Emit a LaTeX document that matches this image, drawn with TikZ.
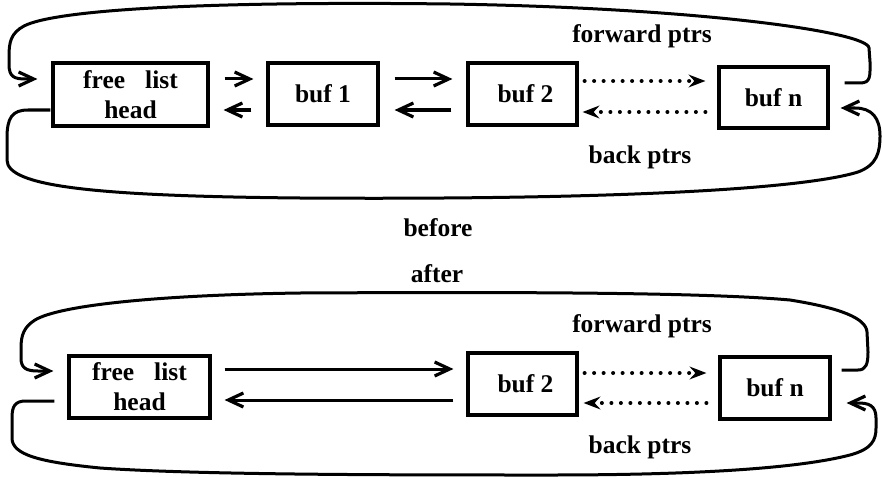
\documentclass[tikz,border=0pt]{standalone}
\usepackage{fontspec}
\setmainfont{Liberation Serif}
\usetikzlibrary{arrows.meta}
\begin{document}
\begin{tikzpicture}[x=1pt,y=-1pt,
  every node/.style={font=\fontsize{25.5}{30}\selectfont\bfseries},
  box/.style={draw,line width=3.2pt,align=center,inner sep=0pt},
  con/.style={line width=3pt},
  fw/.style={con,-{Straight Barb[length=15pt,width=14pt,line width=3.2pt]}},
  dot/.style={line width=4pt,line cap=round,dash pattern=on 0pt off 9.5pt,
    -{Stealth[length=17pt,width=13pt,inset=6pt,line width=1.5pt]}},
  lbl/.style={anchor=base}]
\useasboundingbox (0,0) rectangle (882,476);
% ---------- before ----------
\node[box,minimum width=155pt,minimum height=63pt] (fl1) at (130.5,94.5)
  {free\hspace{20pt}list\\head};
\node[box,minimum width=110pt,minimum height=62pt] (b1) at (323,94) {buf 1};
\node[box,minimum width=109pt,minimum height=62pt] (b21) at (522.5,94) {\hspace{6pt}buf 2};
\node[box,minimum width=109pt,minimum height=61pt] (bn1) at (773.5,97.5) {buf n};
\draw[fw,shorten <=15pt,shorten >=13pt] (fl1.east |- 0,79) -- (b1.west |- 0,79);
\draw[fw,shorten <=15pt,shorten >=14pt] (b1.west |- 0,110) -- (fl1.east |- 0,110);
\draw[fw,shorten <=15pt,shorten >=14pt] (b1.east |- 0,79) -- (b21.west |- 0,79);
\draw[fw,shorten <=15pt,shorten >=15pt] (b21.west |- 0,110) -- (b1.east |- 0,110);
\draw[dot,shorten <=6pt,shorten >=12pt] (b21.east |- 0,81) -- (bn1.west |- 0,81);
\draw[dot,shorten <=12pt,shorten >=4pt] (bn1.west |- 0,112) -- (b21.east |- 0,112);
\draw[fw,shorten <=15pt,shorten >=14pt] (bn1.east |- 0,83) -- (860,83)
  .. controls (871,83) and (870,76) .. (870,62) -- (869,48)
  .. controls (868,32) and (700,8) .. (450,4)
  .. controls (200,1) and (55,10) .. (24,26)
  .. controls (11,33) and (9,42) .. (9,56) -- (9,64)
  .. controls (9,77) and (14,79) .. (26,79) -- (fl1.west |- 0,79);
\draw[fw,shorten <=1pt,shorten >=11pt] (fl1.west |- 0,110) -- (28,110)
  .. controls (12,110) and (7,118) .. (7,138) -- (7,160)
  .. controls (7,186) and (90,196) .. (300,198)
  .. controls (600,200) and (800,190) .. (858,172)
  .. controls (877,165) and (880,152) .. (880,136)
  .. controls (880,118) and (872,108) .. (855,108) -- (bn1.east |- 0,108);
\node[lbl] (fp1) at (642,43) {forward ptrs};
\node[lbl] (bp1) at (640,163) {back ptrs};
\node[lbl] (before) at (438,236) {before};
% ---------- after ----------
\node[lbl] (after) at (437,282) {after};
\node[box,minimum width=141pt,minimum height=62pt] (fl2) at (139.5,387)
  {free\hspace{20pt}list\\head};
\node[box,minimum width=109pt,minimum height=62pt] (b22) at (522.5,384) {\hspace{6pt}buf 2};
\node[box,minimum width=110pt,minimum height=62pt] (bn2) at (775,388) {buf n};
\draw[fw,shorten <=13pt,shorten >=13pt] (fl2.east |- 0,369) -- (b22.west |- 0,369);
\draw[fw,shorten <=13pt,shorten >=13pt] (b22.west |- 0,400) -- (fl2.east |- 0,400);
\draw[dot,shorten <=6pt,shorten >=12pt] (b22.east |- 0,373) -- (bn2.west |- 0,373);
\draw[dot,shorten <=12pt,shorten >=5pt] (bn2.west |- 0,403) -- (b22.east |- 0,403);
\draw[fw,shorten <=10pt,shorten >=14pt] (bn2.east |- 0,370) -- (858,370)
  .. controls (866,370) and (868,364) .. (868,352) -- (867,332)
  .. controls (866,318) and (840,308) .. (790,300)
  .. controls (700,292) and (500,292) .. (300,293)
  .. controls (160,295) and (60,305) .. (35,320)
  .. controls (24,327) and (21,335) .. (21,348) -- (21,358)
  .. controls (21,368) and (26,371) .. (38,371) -- (fl2.west |- 0,371);
\draw[fw,shorten <=13pt,shorten >=15pt] (fl2.west |- 0,401) -- (26,401)
  .. controls (15,401) and (12,406) .. (12,418) -- (12,438)
  .. controls (12,455) and (40,462) .. (100,468)
  .. controls (200,475) and (400,475) .. (550,475)
  .. controls (700,475) and (800,468) .. (850,455)
  .. controls (872,449) and (876,440) .. (876,428) -- (876,418)
  .. controls (876,405) and (868,403) .. (858,403) -- (bn2.east |- 0,403);
\node[lbl] (fp2) at (642,332) {forward ptrs};
\node[lbl] (bp2) at (640,453) {back ptrs};
\end{tikzpicture}
\end{document}
